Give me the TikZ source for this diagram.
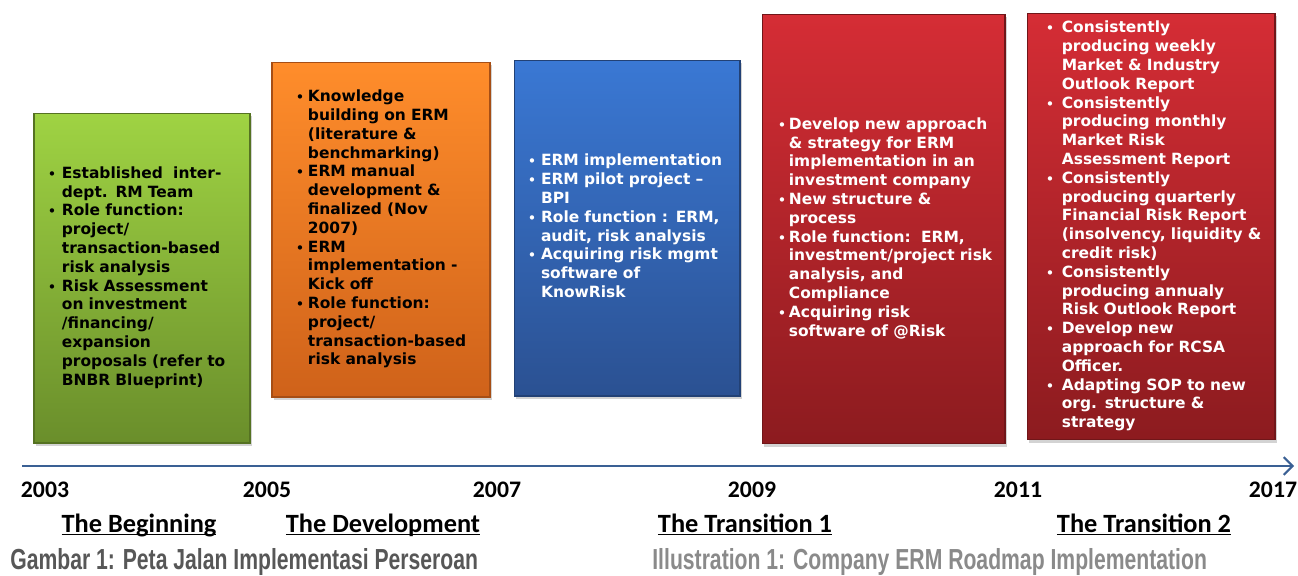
\documentclass[tikz,border=0pt]{standalone}
\usepackage{fontspec}
\usetikzlibrary{arrows.meta,shadows}

\newfontfamily\boxfont{DejaVu Sans}
\newfontfamily\yearfont{Carlito}
\newfontfamily\capfont{Liberation Sans}[FakeStretch=0.73]

\definecolor{greenTop}{HTML}{9FD343}
\definecolor{greenBot}{HTML}{6A8E2B}
\definecolor{orangeTop}{HTML}{FF8D2B}
\definecolor{orangeBot}{HTML}{CF621A}
\definecolor{blueTop}{HTML}{3A78D4}
\definecolor{blueBot}{HTML}{2B5192}
\definecolor{redTop}{HTML}{D52D35}
\definecolor{redBot}{HTML}{8C1B1F}
\definecolor{axisBlue}{HTML}{3A6094}
\definecolor{capDark}{HTML}{575757}
\definecolor{capLight}{HTML}{8A8A8A}

\newlength{\bulgap}
\newcommand{\bul}{\makebox[\bulgap][l]{\scalebox{0.8}{\textbullet}}}
\newcommand{\itemlist}[2]{\setlength{\bulgap}{#1}%
  \begin{tabular}{@{}l@{}l@{}}#2\end{tabular}}
\newcommand{\phaseline}[1]{\underline{\smash{#1}}}

\begin{document}
\begin{tikzpicture}[%
x=0.02cm, y=-0.02cm,
phasebox/.style={rectangle, align=left, line width=0.6pt,
  font={\boxfont\bfseries\fontsize{8.8}{10.7}\selectfont},
  drop shadow={shadow xshift=1.2pt, shadow yshift=-1.5pt, opacity=0.35}},
year/.style={font={\yearfont\bfseries\fontsize{13.5}{15}\selectfont}},
phaselabel/.style={font={\yearfont\bfseries\fontsize{15}{17}\selectfont}},
caption/.style={anchor=base west, inner sep=0pt, font={\capfont\bfseries\fontsize{16.5}{18}\selectfont}},
axis/.style={color=axisBlue, line width=1.2pt, -{Straight Barb[length=5pt, width=10pt]}},
]
\useasboundingbox (0,0) rectangle (1298,575);
%% box;
\node[phasebox, top color=greenTop, bottom color=greenBot, draw=greenBot!80!black,
  minimum height=6.6cm, text width=3.76cm, inner xsep=0.28cm]
  (beginning) at (142,278) {\itemlist{7.9pt}{%
\bul & Established\ \ inter-\\
     & dept. RM Team\\
\bul & Role function:\\
     & project/\\
     & transaction-based\\
     & risk analysis\\
\bul & Risk Assessment\\
     & on investment\\
     & /financing/\\
     & expansion\\
     & proposals (refer to\\
     & BNBR Blueprint)}};
%% box;
\node[phasebox, top color=orangeTop, bottom color=orangeBot, draw=orangeBot!80!black,
  minimum height=6.7cm, text width=3.4cm, inner xsep=0.48cm]
  (development) at (381,229.5) {\itemlist{6.8pt}{%
\bul & Knowledge\\
     & building on ERM\\
     & (literature \&\\
     & benchmarking)\\
\bul & ERM manual\\
     & development \&\\
     & finalized (Nov\\
     & 2007)\\
\bul & ERM\\
     & implementation -\\
     & Kick off\\
\bul & Role function:\\
     & project/\\
     & transaction-based\\
     & risk analysis}};
%% box;
\node[phasebox, text=white, top color=blueTop, bottom color=blueBot, draw=blueBot!80!black,
  minimum height=6.72cm, text width=3.96cm, inner xsep=0.28cm]
  (pilot) at (627,228) {\itemlist{7.4pt}{%
\bul & ERM implementation\\
\bul & ERM pilot project \textendash\\
     & BPI\\
\bul & Role function : ERM,\\
     & audit, risk analysis\\
\bul & Acquiring risk mgmt\\
     & software of\\
     & KnowRisk}};
%% box;
\node[phasebox, text=white, top color=redTop, bottom color=redBot, draw=redBot!80!black,
  minimum height=8.6cm, text width=4.22cm, inner xsep=0.32cm]
  (transitionA) at (883.5,229) {\itemlist{6.2pt}{%
\bul & Develop new approach\\
     & \& strategy for ERM\\
     & implementation in an\\
     & investment company\\
\bul & New structure \&\\
     & process\\
\bul & Role function:\ \ ERM,\\
     & investment/project risk\\
     & analysis, and\\
     & Compliance\\
\bul & Acquiring risk\\
     & software of @Risk}};
%% box;
\node[phasebox, text=white, top color=redTop, bottom color=redBot, draw=redBot!80!black,
  minimum height=8.54cm, text width=4.2cm, inner xsep=0.38cm]
  (transitionB) at (1151,226.5) {\itemlist{9pt}{%
\bul & Consistently\\
     & producing weekly\\
     & Market \& Industry\\
     & Outlook Report\\
\bul & Consistently\\
     & producing monthly\\
     & Market Risk\\
     & Assessment Report\\
\bul & Consistently\\
     & producing quarterly\\
     & Financial Risk Report\\
     & (insolvency, liquidity \&\\
     & credit risk)\\
\bul & Consistently\\
     & producing annualy\\
     & Risk Outlook Report\\
\bul & Develop new\\
     & approach for RCSA\\
     & Officer.\\
\bul & Adapting SOP to new\\
     & org. structure \&\\
     & strategy}};
%% time axis;
\coordinate (start) at (22,466);
\coordinate (end) at (1294,466);
\draw[axis] (start) -- (end);
\foreach \yr/\xx in {2003/45, 2005/267, 2007/497, 2009/752, 2011/1018, 2017/1273}
  \node[year] (y\yr) at (\xx,490) {\yr};
%% label;
\node[phaselabel] (lblBeginning) at (139,534) {\phaseline{The Beginning}};
\node[phaselabel] (lblDevelopment) at (383,534) {\phaseline{The Development}};
\node[phaselabel] (lblTransitionA) at (745,534) {\phaseline{The Transition 1}};
\node[phaselabel] (lblTransitionB) at (1144,534) {\phaseline{The Transition 2}};
%% caption;
\node[caption, text=capDark] (capId) at (10,569) {Gambar 1: Peta Jalan Implementasi Perseroan};
\node[caption, text=capLight] (capEn) at (652,569) {Illustration 1: Company ERM Roadmap Implementation};
\end{tikzpicture}
\end{document}
